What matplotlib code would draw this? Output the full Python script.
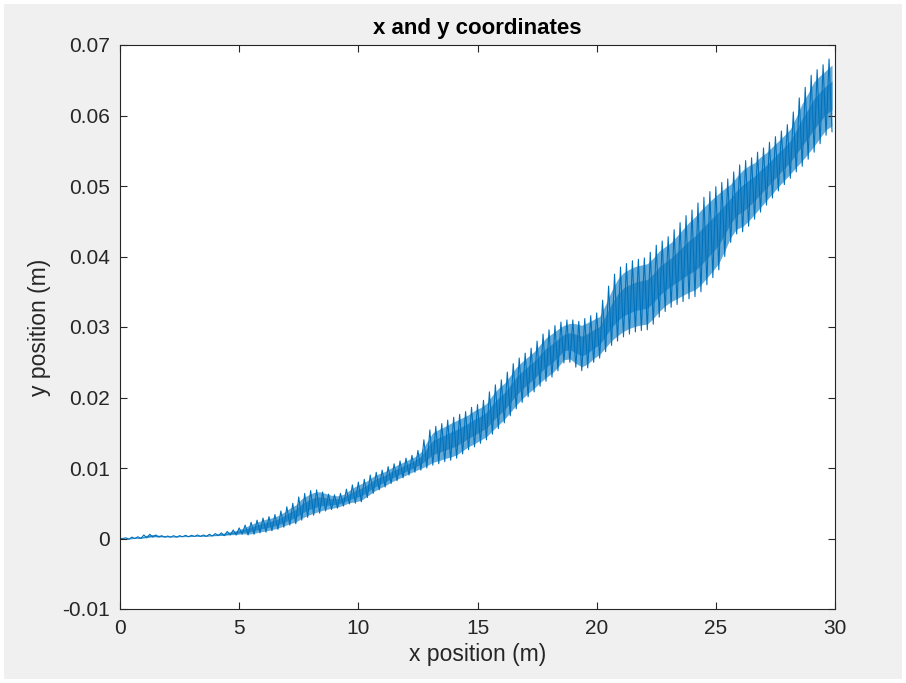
import numpy as np
import matplotlib.pyplot as plt
from matplotlib.patches import Rectangle

# upper / lower edge of the oscillating trace, in mm, read every 0.25 m of x
y_upper_mm = [
    0.0, 0.1, 0.2, 0.25, 0.5, 0.6, 0.5, 0.4,
    0.35, 0.4, 0.4, 0.45, 0.45, 0.5, 0.5, 0.6,
    0.7, 0.8, 1.0, 1.2, 1.5, 1.9, 2.3, 2.6,
    2.9, 3.1, 3.4, 3.9, 4.5, 5.0, 5.9, 6.4,
    6.8, 6.9, 6.6, 6.3, 6.2, 6.4, 7.0, 7.6,
    8.0, 8.4, 9.0, 9.4, 9.7, 10.2, 10.6, 11.0,
    11.4, 11.8, 12.5, 14.0, 15.4, 15.9, 16.3, 16.8,
    17.2, 17.6, 18.0, 18.6, 19.0, 19.6, 20.8, 21.8,
    22.5, 23.6, 24.8, 25.6, 26.3, 27.0, 28.0, 29.0,
    29.6, 30.2, 30.7, 31.0, 31.0, 30.8, 31.2, 31.6,
    32.0, 33.8, 35.8, 37.5, 38.5, 39.0, 39.4, 39.6,
    39.8, 40.6, 41.6, 42.2, 42.8, 43.8, 44.8, 45.8,
    46.6, 47.6, 48.4, 49.2, 49.9, 50.5, 51.0, 52.0,
    53.0, 53.6, 54.0, 54.8, 55.4, 56.2, 57.0, 57.8,
    58.7, 60.5, 62.5, 64.0, 65.7, 66.5, 67.2, 68.0,
]
y_lower_mm = [
    0.0, -0.1, 0.0, 0.0, 0.1, 0.2, 0.2, 0.2,
    0.2, 0.2, 0.25, 0.25, 0.3, 0.3, 0.3, 0.35,
    0.4, 0.4, 0.5, 0.5, 0.6, 0.5, 0.6, 0.8,
    0.9, 1.1, 1.3, 1.6, 1.9, 2.1, 2.6, 3.0,
    3.3, 3.6, 3.9, 4.1, 4.3, 4.6, 4.9, 5.0,
    5.2, 5.8, 6.4, 6.9, 7.3, 7.8, 8.2, 8.6,
    9.0, 9.4, 9.7, 10.0, 10.4, 10.6, 10.9, 11.1,
    11.4, 12.0, 12.6, 13.0, 13.5, 14.0, 14.8, 15.6,
    16.4, 17.4, 18.4, 19.3, 20.1, 20.8, 21.6, 22.3,
    22.9, 23.8, 24.9, 25.0, 24.3, 23.8, 24.2, 25.0,
    25.6, 26.5, 27.4, 28.0, 28.6, 29.0, 29.3, 29.5,
    29.6, 30.4, 31.4, 32.2, 32.8, 33.2, 33.6, 34.0,
    34.3, 35.0, 36.0, 37.0, 38.1, 40.0, 42.0, 43.2,
    43.5, 44.3, 45.3, 46.3, 47.3, 48.3, 49.3, 50.2,
    51.1, 52.0, 52.8, 53.8, 54.8, 56.0, 57.2, 57.7,
]
x_step = 0.25

x_ticks = [0, 5, 10, 15, 20, 25, 30]
y_ticks = [-0.01, 0, 0.01, 0.02, 0.03, 0.04, 0.05, 0.06, 0.07]
y_tick_labels = ['-0.01', '0', '0.01', '0.02', '0.03', '0.04', '0.05', '0.06', '0.07']

# zigzag: crest then trough half a step later
n = len(y_upper_mm)
x_crest = np.arange(n) * x_step
x_trough = x_crest + x_step / 2
xs = np.column_stack([x_crest, x_trough]).ravel()
ys = np.column_stack([y_upper_mm, y_lower_mm]).ravel() / 1000.0
up = np.array(y_upper_mm) / 1000.0
lo = np.array(y_lower_mm) / 1000.0
w = up - lo

plt.rcParams['font.family'] = ['Liberation Sans', 'DejaVu Sans']
ink = '#262626'
blue = '#0072BD'

fig = plt.figure(figsize=(9.06, 6.83), dpi=100)
fig.patch.set_facecolor('white')
fig.patches.append(Rectangle((4 / 906, 4 / 683), 898 / 906, 675 / 683,
                             transform=fig.transFigure, facecolor='#f0f0f0',
                             edgecolor='none', zorder=-10))

ax = fig.add_axes([120 / 906, 74 / 683, 715 / 906, 564 / 683])
# trace too dense to resolve: pale outer band, darker core, zigzag on top
ax.fill_between(x_trough, lo + 0.08 * w, up - 0.08 * w, color=blue, alpha=0.6, linewidth=0)
ax.fill_between(x_trough, lo + 0.3 * w, up - 0.3 * w, color=blue, alpha=0.6, linewidth=0)
ax.plot(xs, ys, color=blue, linewidth=0.8)

ax.set_xlim(0, 30)
ax.set_ylim(-0.01, 0.07)
ax.set_xticks(x_ticks)
ax.set_yticks(y_ticks)
ax.set_yticklabels(y_tick_labels)
ax.tick_params(direction='in', length=5, width=0.8, colors=ink,
               labelsize=15, pad=7, top=True, right=True)
for s in ax.spines.values():
    s.set_color(ink)
    s.set_linewidth(0.8)

ax.set_title('x and y coordinates', fontsize=16, fontweight='bold', color='black', pad=8)
ax.set_xlabel('x position (m)', fontsize=16.5, color=ink, labelpad=4)
ax.set_ylabel('y position (m)', fontsize=16.5, color=ink, labelpad=8)

fig.savefig('out.png', dpi=100, facecolor=fig.get_facecolor())
